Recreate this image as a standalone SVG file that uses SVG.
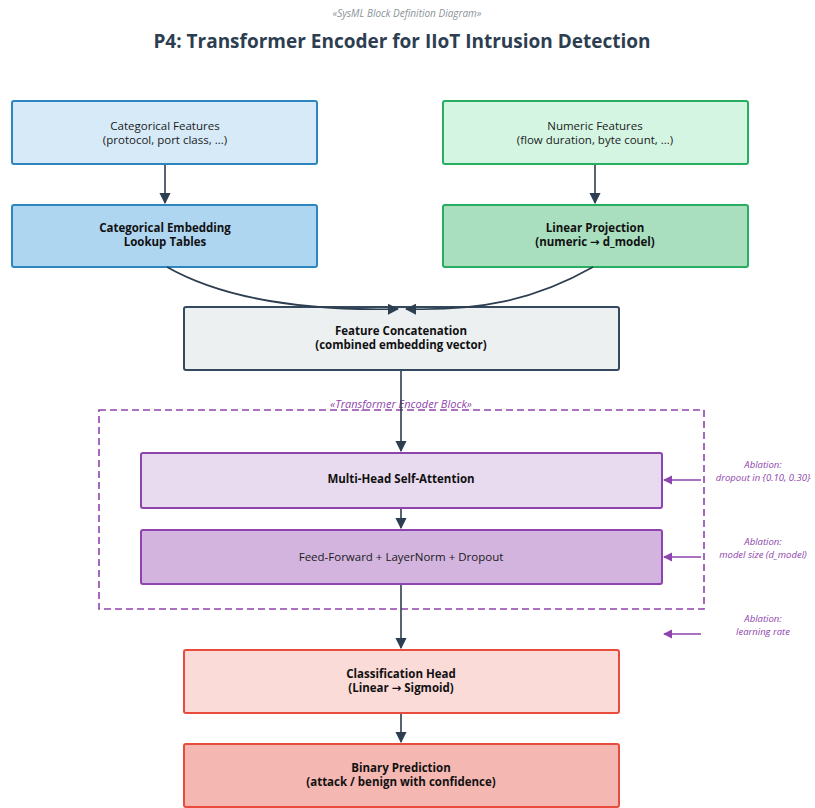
<svg xmlns="http://www.w3.org/2000/svg" width="815" height="808" viewBox="0 0 815 808">
  <style>
    text { font-family: "Open Sans", "Noto Sans", "DejaVu Sans", sans-serif; }
    .box { stroke-width: 2; }
    .t { font-size: 11.5px; fill: #1b1b1b; text-anchor: middle; }
    .b { font-weight: bold; fill: #111; }
    .conn { fill: none; stroke: #2c3e50; stroke-width: 1.6; }
    .abl { fill: none; stroke: #8e44ad; stroke-width: 1.3; }
    .ablt { font-size: 9.5px; font-style: italic; fill: #8e44ad; text-anchor: middle; }
  </style>
  <defs>
    <marker id="arr" viewBox="0 0 10 10" refX="9" refY="5" markerWidth="7" markerHeight="7" orient="auto">
      <path d="M0,0 L10,5 L0,10 z" fill="#2c3e50"/>
    </marker>
    <marker id="arrp" viewBox="0 0 10 10" refX="9" refY="5" markerWidth="7" markerHeight="7" orient="auto">
      <path d="M0,0 L10,5 L0,10 z" fill="#8e44ad"/>
    </marker>
  </defs>

  <rect width="815" height="808" fill="#ffffff"/>

  <text x="407" y="17" font-size="10" font-style="italic" fill="#8a9399" text-anchor="middle">«SysML Block Definition Diagram»</text>
  <text x="402" y="48" font-size="19" font-weight="bold" fill="#2c3e50" text-anchor="middle">P4: Transformer Encoder for IIoT Intrusion Detection</text>

  <!-- encoder container -->
  <g id="encoder_block">
    <rect x="99" y="410" width="605" height="199" fill="none" stroke="#8e44ad" stroke-width="1.6" stroke-dasharray="7,4"/>
    <text x="401" y="408" font-size="11" font-style="italic" fill="#8e44ad" text-anchor="middle">«Transformer Encoder Block»</text>
  </g>

  <g id="cat_features">
    <rect class="box" x="12" y="101" width="305" height="63" rx="2" fill="#d6eaf8" stroke="#2e86c1"/>
    <text class="t" x="165" y="130">Categorical Features</text>
    <text class="t" x="165" y="144">(protocol, port class, ...)</text>
  </g>
  <g id="num_features">
    <rect class="box" x="443" y="101" width="305" height="63" rx="2" fill="#d5f5e3" stroke="#27ae60"/>
    <text class="t" x="595" y="130">Numeric Features</text>
    <text class="t" x="595" y="144">(flow duration, byte count, ...)</text>
  </g>
  <g id="cat_embedding">
    <rect class="box" x="12" y="205" width="305" height="62" rx="2" fill="#aed6f1" stroke="#2e86c1"/>
    <text class="t b" x="165" y="232">Categorical Embedding</text>
    <text class="t b" x="165" y="246">Lookup Tables</text>
  </g>
  <g id="linear_projection">
    <rect class="box" x="443" y="205" width="305" height="62" rx="2" fill="#a9dfbf" stroke="#27ae60"/>
    <text class="t b" x="595" y="232">Linear Projection</text>
    <text class="t b" x="595" y="246">(numeric → d_model)</text>
  </g>
  <g id="feature_concat">
    <rect class="box" x="184" y="307" width="435" height="63" rx="2" fill="#ecf0f1" stroke="#34495e"/>
    <text class="t b" x="401" y="335">Feature Concatenation</text>
    <text class="t b" x="401" y="349">(combined embedding vector)</text>
  </g>
  <g id="mhsa">
    <rect class="box" x="141" y="453" width="521" height="55" rx="2" fill="#e8daef" stroke="#8e44ad"/>
    <text class="t b" x="401" y="483">Multi-Head Self-Attention</text>
  </g>
  <g id="ffn">
    <rect class="box" x="141" y="530" width="521" height="54" rx="2" fill="#d2b4de" stroke="#8e44ad"/>
    <text class="t" x="401" y="561">Feed-Forward + LayerNorm + Dropout</text>
  </g>
  <g id="cls_head">
    <rect class="box" x="184" y="650" width="435" height="63" rx="2" fill="#fadbd8" stroke="#e74c3c"/>
    <text class="t b" x="401" y="678">Classification Head</text>
    <text class="t b" x="401" y="692">(Linear → Sigmoid)</text>
  </g>
  <g id="prediction">
    <rect class="box" x="184" y="744" width="435" height="63" rx="2" fill="#f5b7b1" stroke="#e74c3c"/>
    <text class="t b" x="401" y="772">Binary Prediction</text>
    <text class="t b" x="401" y="786">(attack / benign with confidence)</text>
  </g>

  <g id="ablations">
    <text class="ablt" x="763" y="468">Ablation:</text>
    <text class="ablt" x="763" y="481">dropout in {0.10, 0.30}</text>
    <text class="ablt" x="763" y="545">Ablation:</text>
    <text class="ablt" x="763" y="558">model size (d_model)</text>
    <text class="ablt" x="763" y="622">Ablation:</text>
    <text class="ablt" x="763" y="635">learning rate</text>
  </g>

  <g id="connectors">
    <line class="conn" x1="165" y1="165" x2="165" y2="203" marker-end="url(#arr)"/>
    <line class="conn" x1="595" y1="165" x2="595" y2="203" marker-end="url(#arr)"/>
    <path class="conn" d="M167,267 C225,300 310,311 398,309" marker-end="url(#arr)"/>
    <path class="conn" d="M593,267 C535,300 480,311 406,309" marker-end="url(#arr)"/>
    <line class="conn" x1="401" y1="371" x2="401" y2="451" marker-end="url(#arr)"/>
    <line class="conn" x1="401" y1="509" x2="401" y2="528" marker-end="url(#arr)"/>
    <line class="conn" x1="401" y1="585" x2="401" y2="648" marker-end="url(#arr)"/>
    <line class="conn" x1="401" y1="714" x2="401" y2="742" marker-end="url(#arr)"/>
    <line class="abl" x1="701" y1="480" x2="664" y2="480" marker-end="url(#arrp)"/>
    <line class="abl" x1="701" y1="557" x2="664" y2="557" marker-end="url(#arrp)"/>
    <line class="abl" x1="701" y1="634" x2="664" y2="634" marker-end="url(#arrp)"/>
  </g>
</svg>
